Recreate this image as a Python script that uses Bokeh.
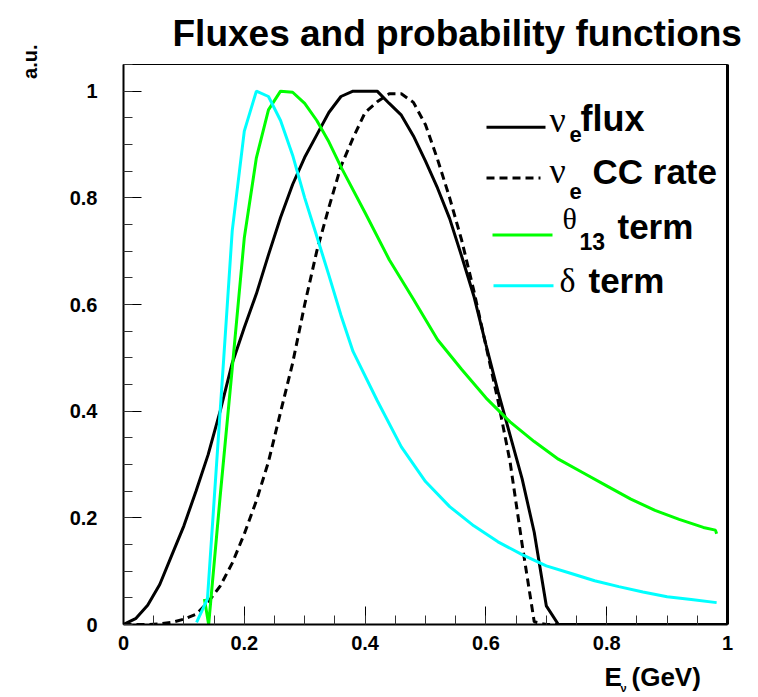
import numpy as np
from bokeh.plotting import figure
from bokeh.layouts import column, row
from bokeh.models import Range1d, FixedTicker, CustomJSTickFormatter, Label, LinearAxis, Title
from bokeh.embed import file_html
from bokeh.resources import INLINE

# ---------------- data ----------------
TITLE = "Fluxes and probability functions"
Y_LABEL = "a.u."
X_LABEL_MAIN = "E"
X_LABEL_SUB = "\u03bd"
X_LABEL_UNIT = "(GeV)"
MAJOR_TICKS = [0.0, 0.2, 0.4, 0.6, 0.8, 1.0]
MINOR_TICKS = [round(0.05 * i, 2) for i in range(22)]

flux_x = [0.00, 0.02, 0.04, 0.06, 0.08, 0.10, 0.12, 0.14, 0.16, 0.18, 0.20, 0.22,
          0.24, 0.26, 0.28, 0.30, 0.32, 0.34, 0.36, 0.38, 0.40, 0.42, 0.44, 0.46,
          0.48, 0.50, 0.52, 0.54, 0.56, 0.58, 0.60, 0.62, 0.64, 0.66, 0.68, 0.70,
          0.72, 1.00]
flux_y = [0.000, 0.011, 0.036, 0.075, 0.130, 0.185, 0.250, 0.318, 0.400, 0.490, 0.557, 0.620,
          0.693, 0.763, 0.825, 0.876, 0.918, 0.960, 0.990, 1.000, 1.000, 1.000, 0.977, 0.955,
          0.916, 0.869, 0.818, 0.761, 0.690, 0.616, 0.525, 0.437, 0.355, 0.273, 0.173, 0.035,
          0.000, 0.000]

ccrate_x = [0.00, 0.02, 0.04, 0.06, 0.08, 0.10, 0.12, 0.14, 0.16, 0.18, 0.20, 0.22,
            0.24, 0.26, 0.28, 0.30, 0.32, 0.34, 0.36, 0.38, 0.40, 0.42, 0.44, 0.46,
            0.48, 0.50, 0.52, 0.54, 0.56, 0.58, 0.60, 0.62, 0.64, 0.66, 0.68, 0.70,
            1.00]
ccrate_y = [0.000, 0.000, 0.000, 0.001, 0.004, 0.010, 0.019, 0.042, 0.072, 0.115, 0.170, 0.232,
            0.305, 0.398, 0.490, 0.600, 0.700, 0.782, 0.859, 0.912, 0.960, 0.980, 0.995, 0.995,
            0.979, 0.937, 0.872, 0.800, 0.720, 0.626, 0.523, 0.420, 0.305, 0.150, 0.005, 0.000,
            0.000]

theta_x = [0.134, 0.141, 0.16, 0.18, 0.20, 0.22, 0.24, 0.26, 0.28, 0.30, 0.32, 0.34,
           0.36, 0.40, 0.44, 0.48, 0.52, 0.56, 0.60, 0.64, 0.68, 0.72, 0.76, 0.80,
           0.84, 0.88, 0.92, 0.96, 0.98, 0.982]
theta_y = [0.048, 0.000, 0.240, 0.480, 0.725, 0.875, 0.965, 1.000, 0.998, 0.977, 0.945, 0.905,
           0.858, 0.772, 0.684, 0.610, 0.534, 0.478, 0.425, 0.380, 0.343, 0.310, 0.285, 0.260,
           0.235, 0.214, 0.197, 0.182, 0.177, 0.170]

delta_x = [0.121, 0.139, 0.166, 0.18, 0.20, 0.22, 0.24, 0.26, 0.28, 0.30, 0.32, 0.34,
           0.36, 0.38, 0.42, 0.46, 0.50, 0.54, 0.58, 0.62, 0.66, 0.70, 0.74, 0.78,
           0.82, 0.86, 0.90, 0.94, 0.982]
delta_y = [0.004, 0.048, 0.500, 0.738, 0.925, 1.000, 0.990, 0.945, 0.880, 0.800, 0.728, 0.655,
           0.580, 0.512, 0.420, 0.333, 0.268, 0.221, 0.185, 0.155, 0.131, 0.110, 0.096, 0.082,
           0.071, 0.061, 0.052, 0.047, 0.041]

# legend texts: (symbol, subscript, rest)
LEGEND = [("\u03bd", "e", "flux"),
          ("\u03bd", "e", "CC rate"),
          ("\u03b8", "13", "term"),
          ("\u03b4", "", "term")]

# ---------------- layout ----------------
W = 758
SW = 60                                  # left strip width (y title)
H_MAIN, H_XLAB = 662, 35
FL, FT, FR, FB = 123, 62, 727, 624      # frame edges in page px
X0, X1, Y0, Y1 = 0.0, 1.0, 0.0, 1.05
BASE_SHIFT = 0.38                        # baseline correction (fraction of font size)

def dx(px):  # page px -> data x
    return X0 + (px - FL) / (FR - FL) * (X1 - X0)

def dy(py):  # page px -> data y
    return Y0 + (FB - py) / (FB - FT) * (Y1 - Y0)

p = figure(width=W - SW, height=H_MAIN, output_backend="svg", toolbar_location=None,
           x_range=Range1d(X0, X1), y_range=Range1d(Y0, Y1),
           min_border_left=FL - SW, min_border_top=FT, min_border_right=W - FR,
           min_border_bottom=H_MAIN - FB)
p.grid.visible = False
p.background_fill_color = "white"
p.border_fill_color = "white"
p.outline_line_color = "black"
p.outline_line_width = 1

fmt = CustomJSTickFormatter(code="return tick.toFixed(1).replace(/\\.0$/, '');")
for ax in (p.xaxis[0], p.yaxis[0]):
    ax.ticker = FixedTicker(ticks=MAJOR_TICKS, minor_ticks=MINOR_TICKS)
    ax.formatter = fmt
    ax.axis_line_width = 2
    ax.axis_line_color = "black"
    ax.major_tick_in = 18
    ax.major_tick_out = 0
    ax.minor_tick_in = 9
    ax.minor_tick_out = 0
    ax.major_tick_line_width = 1
    ax.minor_tick_line_width = 1
    ax.major_tick_line_color = "black"
    ax.minor_tick_line_color = "#333333"
    ax.major_label_text_font = "Liberation Sans"
    ax.major_label_text_font_style = "bold"
    ax.major_label_text_font_size = "20px"
    ax.major_label_text_color = "black"
p.yaxis[0].major_label_standoff = 26
p.xaxis[0].major_label_standoff = 11

right = LinearAxis(major_tick_in=0, major_tick_out=0, minor_tick_in=0, minor_tick_out=0,
                   major_label_text_font_size="0px", axis_line_width=3,
                   axis_line_color="black")
right.ticker = FixedTicker(ticks=[])
p.add_layout(right, "right")

# main title
p.add_layout(Title(text=TITLE, align="left", offset=49, standoff=21,
                   text_font="Liberation Sans", text_font_style="bold",
                   text_font_size="37px", text_color="black"), "above")

# curves
p.line(flux_x, flux_y, line_color="black", line_width=3)
p.line(ccrate_x, ccrate_y, line_color="black", line_width=3, line_dash="8 5")
p.line(theta_x, theta_y, line_color="#00ff00", line_width=3)
p.line(delta_x, delta_y, line_color="#00ffff", line_width=3)

def lab(fig, text, x, y, size, bold=True, font="Liberation Sans"):
    fig.add_layout(Label(x=x, y=y, text=text, text_font=font,
                         text_font_size=f"{size}px",
                         text_font_style="bold" if bold else "normal",
                         text_align="left", text_baseline="alphabetic",
                         text_color="black"))

def plab(text, px, py, size, bold=True, font="Liberation Sans"):
    lab(p, text, dx(px), dy(py - BASE_SHIFT * size), size, bold, font)

# legend
leg_lines = [(486, 545, 125, "black", None),
             (486, 540, 176, "black", "8 5"),
             (492, 552, 233, "#00ff00", None),
             (493, 553, 284, "#00ffff", None)]
for (a, b, yy, c, d) in leg_lines:
    kw = dict(line_color=c, line_width=3)
    if d:
        kw["line_dash"] = d
    p.line([dx(a), dx(b)], [dy(yy), dy(yy)], **kw)

(s1, e1, t1), (s2, e2, t2), (s3, e3, t3), (s4, e4, t4) = LEGEND
plab(s1, 549, 131, 36, bold=False, font="Liberation Serif")
plab(e1, 569, 141, 22)
plab(t1, 580, 130, 36)
plab(s2, 549, 183, 36, bold=False, font="Liberation Serif")
plab(e2, 569, 198, 22)
plab(t2, 592, 183, 35)
plab(s3, 562, 228, 30, bold=False, font="Liberation Serif")
plab(e3, 579, 248, 23)
plab(t3, 617, 238, 35)
plab(s4, 559, 292, 34, bold=False, font="Liberation Serif")
plab(t4, 588, 292, 35)

def strip(width, height, x_lo, x_hi, y_lo, y_hi, **borders):
    f = figure(width=width, height=height, output_backend="svg", toolbar_location=None,
               x_range=Range1d(x_lo, x_hi), y_range=Range1d(y_hi, y_lo),
               x_axis_type=None, y_axis_type=None, **borders)
    f.grid.visible = False
    f.outline_line_color = None
    f.background_fill_color = "white"
    f.border_fill_color = "white"
    return f

# left strip carrying the y-axis title as a vertical Title
S_LEFT = 45
s = strip(SW, H_MAIN, S_LEFT, SW, FT, FB,
          min_border_left=S_LEFT, min_border_right=0,
          min_border_top=FT, min_border_bottom=H_MAIN - FB)
s.add_layout(Title(text=Y_LABEL, align="right", offset=-20, standoff=10,
                   text_font="Liberation Sans", text_font_style="bold",
                   text_font_size="20px", text_color="black"), "left")

# bottom strip with the x-axis title (page pixel coordinates)
q = strip(W, H_XLAB, FL, FR, H_MAIN, H_MAIN + H_XLAB,
          min_border_left=FL, min_border_right=W - FR,
          min_border_top=0, min_border_bottom=0)
def qlab(text, px, py, size, bold=True):
    lab(q, text, px, py - BASE_SHIFT * size, size, bold)

qlab(X_LABEL_MAIN, 604, 686, 26)
qlab(X_LABEL_SUB, 620, 692, 11)
qlab(X_LABEL_UNIT, 631, 686, 26)

layout = column(row(s, p, spacing=0), q, spacing=0)
open("out.html", "w").write(file_html(layout, INLINE))
